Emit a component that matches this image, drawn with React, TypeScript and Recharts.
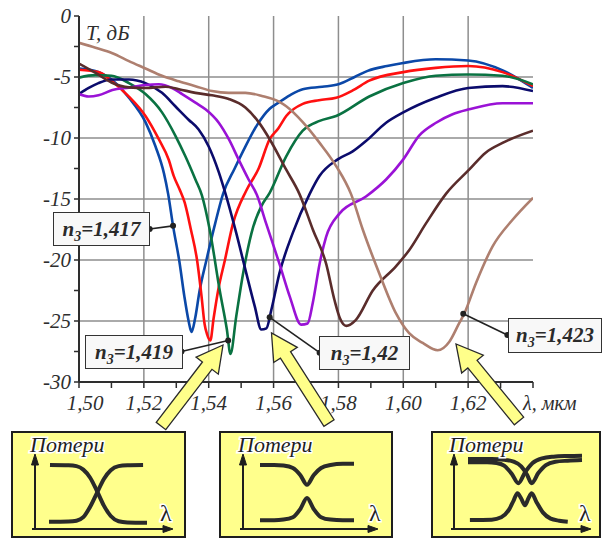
import React from 'react';
import { LineChart, Line, XAxis, YAxis, CartesianGrid, ReferenceLine, ReferenceDot } from 'recharts';

type Pt = [number, number];

// axis ticks
const lambdaTicks = [1.5, 1.51, 1.52, 1.53, 1.54, 1.55, 1.56, 1.57, 1.58, 1.59, 1.6, 1.61, 1.62, 1.63, 1.64];
const tTicks = [0, -2.5, -5, -7.5, -10, -12.5, -15, -17.5, -20, -22.5, -25, -27.5, -30];
const gridLambda = [1.52, 1.54, 1.56, 1.58, 1.6, 1.62];
const gridT = [-5, -10, -15, -20, -25];

// transmission curves, [lambda, T dB]
const n1417: Pt[] = [
  [1.5, -4.3], [1.505, -4.5], [1.51, -5.2], [1.5154, -6.7], [1.5205, -8.7], [1.5236, -10.7], [1.5262, -12.9],
  [1.5275, -14.6], [1.529, -17.2], [1.531, -20.2], [1.5325, -23.0], [1.5338, -25.0], [1.5347, -25.9], [1.5358, -24.8],
  [1.5372, -22.5], [1.5393, -20.0], [1.542, -17.0], [1.5444, -14.6], [1.548, -12.5], [1.5513, -10.7], [1.555, -8.9],
  [1.5588, -7.6], [1.5615, -7.1], [1.565, -6.5], [1.569, -6.0], [1.575, -5.8], [1.58, -5.6], [1.585, -5.0],
  [1.589, -4.5], [1.595, -4.1], [1.6, -3.85], [1.61, -3.55], [1.62, -3.65], [1.631, -4.5], [1.64, -5.9],
];
const n1418: Pt[] = [
  [1.5, -4.4], [1.506, -4.6], [1.51, -5.3], [1.515, -6.5], [1.5205, -8.2], [1.5246, -10.1], [1.5277, -11.8],
  [1.5292, -13.1], [1.531, -14.2], [1.5326, -15.3], [1.5345, -17.5], [1.5364, -20.0], [1.5378, -23.0], [1.5387, -25.2],
  [1.5395, -26.1], [1.5405, -26.6], [1.5415, -24.8], [1.5429, -22.5], [1.545, -20.0], [1.5475, -17.0], [1.5516, -14.3],
  [1.5554, -12.5], [1.5588, -10.1], [1.5615, -9.2], [1.5639, -8.2], [1.569, -7.2], [1.574, -6.9], [1.5793, -6.7],
  [1.5844, -6.1], [1.5895, -5.3], [1.6, -4.6], [1.61, -4.25], [1.62, -4.1], [1.6306, -4.6], [1.64, -5.75],
];
const n1419: Pt[] = [
  [1.5, -5.05], [1.505, -4.85], [1.51, -4.9], [1.5154, -5.5], [1.5205, -6.4], [1.5256, -7.9], [1.5297, -9.8],
  [1.5328, -11.5], [1.5359, -13.4], [1.5379, -14.7], [1.5403, -17.5], [1.5434, -22.5], [1.5456, -25.7], [1.5467, -27.7],
  [1.5485, -24.6], [1.5506, -21.1], [1.5537, -17.3], [1.5562, -15.6], [1.5588, -14.5], [1.5639, -11.5], [1.569, -9.4],
  [1.5742, -8.6], [1.5793, -8.2], [1.5895, -6.6], [1.6, -5.5], [1.61, -4.9], [1.62, -4.8], [1.6306, -4.9], [1.64, -5.6],
];
const n1420: Pt[] = [
  [1.5, -6.4], [1.503, -5.9], [1.506, -5.5], [1.51, -5.2], [1.5154, -5.2], [1.5205, -5.5], [1.5256, -6.3],
  [1.5297, -7.4], [1.5338, -8.5], [1.5369, -9.3], [1.54, -10.7], [1.5431, -12.8], [1.5451, -14.5], [1.5485, -17.8],
  [1.5516, -21.1], [1.5542, -23.8], [1.5562, -25.7], [1.5578, -25.6], [1.5593, -24.1], [1.5618, -21.1], [1.5659, -17.8],
  [1.5711, -14.6], [1.5742, -13.1], [1.5798, -11.75], [1.5844, -11.1], [1.5885, -10.25], [1.5947, -8.75], [1.6, -7.9],
  [1.61, -6.7], [1.62, -5.9], [1.6306, -5.75], [1.64, -6.15],
];
const n1421: Pt[] = [
  [1.5, -6.4], [1.503, -6.6], [1.506, -6.5], [1.5103, -6.07], [1.5154, -5.87], [1.5205, -5.65], [1.5246, -5.6],
  [1.5287, -5.9], [1.5318, -6.4], [1.5359, -7.1], [1.539, -7.65], [1.5431, -8.75], [1.5462, -10.1], [1.5492, -11.75],
  [1.5523, -13.4], [1.5549, -14.7], [1.5577, -17.0], [1.5618, -20.3], [1.565, -23.0], [1.5685, -25.3], [1.5705, -25.2],
  [1.5721, -23.5], [1.5742, -20.3], [1.5762, -18.1], [1.5803, -16.2], [1.5885, -14.8], [1.5947, -13.4], [1.6, -11.75],
  [1.6049, -9.8], [1.6101, -8.75], [1.6152, -8.05], [1.6203, -7.65], [1.6306, -7.15], [1.64, -7.15],
];
const n1422: Pt[] = [
  [1.5, -3.9], [1.505, -4.65], [1.51, -5.45], [1.5154, -5.85], [1.5205, -5.9], [1.5267, -5.8], [1.5308, -6.0],
  [1.5359, -6.3], [1.541, -6.5], [1.5462, -6.8], [1.5513, -7.5], [1.5554, -8.7], [1.5588, -10.1], [1.5639, -12.6],
  [1.568, -14.6], [1.5721, -17.5], [1.5762, -20.3], [1.5788, -23.3], [1.5805, -24.8], [1.5824, -25.4], [1.5854, -24.9],
  [1.5906, -22.5], [1.5978, -20.5], [1.6018, -19.2], [1.607, -17.0], [1.6131, -14.6], [1.6203, -12.6], [1.6254, -11.2],
  [1.6306, -10.4], [1.64, -9.4],
];
const n1423: Pt[] = [
  [1.5, -2.2], [1.5051, -2.6], [1.5103, -3.05], [1.5154, -3.7], [1.5205, -4.3], [1.5256, -4.9], [1.5308, -5.35],
  [1.5359, -5.75], [1.541, -6.15], [1.5462, -6.3], [1.5513, -6.3], [1.5564, -6.55], [1.5615, -7.0], [1.5639, -7.4],
  [1.569, -8.7], [1.5742, -10.4], [1.5793, -12.3], [1.5839, -14.6], [1.5875, -17.5], [1.5926, -21.1], [1.5978, -24.4],
  [1.6018, -26.0], [1.606, -26.8], [1.6106, -27.4], [1.6142, -26.7], [1.6172, -25.2], [1.6188, -24.4], [1.6224, -21.9],
  [1.6275, -18.9], [1.6337, -16.7], [1.64, -14.9],
];

const series = [
  { id: '1417', pts: n1417, color: '#0b48a8' },
  { id: '1418', pts: n1418, color: '#ff1010' },
  { id: '1419', pts: n1419, color: '#0a7242' },
  { id: '1420', pts: n1420, color: '#0b0b6c' },
  { id: '1421', pts: n1421, color: '#9a12d6' },
  { id: '1422', pts: n1422, color: '#5a2c2b' },
  { id: '1423', pts: n1423, color: '#ae7f6f' },
];

// callouts: point on curve and box anchor, both in data units
const calloutText = ['1,417', '1,419', '1,42', '1,423'];
const calloutCurve: Pt[] = [[1.529, -17.2], [1.546, -26.6], [1.5588, -24.7], [1.6185, -24.4]];
const calloutAnchor: Pt[] = [[1.5218, -17.46], [1.5316, -27.5], [1.5742, -27.6], [1.6321, -26.15]];
const calloutBox = [
  { left: 53, top: 212, width: 97, height: 34 },
  { left: 85, top: 335, width: 98, height: 34 },
  { left: 319, top: 336, width: 91, height: 34 },
  { left: 508, top: 318, width: 94, height: 35 },
];

// schematic loss curves in the three insets
const in1Fall: Pt[] = [[0.1, 1], [2, 0.995], [2.8, 0.98], [3.5, 0.92], [4.2, 0.78], [4.9, 0.55], [5.6, 0.3], [6.3, 0.12], [7.1, 0.03], [8, 0.01], [10, 0.005]];
const in1Rise: Pt[] = [[0, 0.02], [2, 0.025], [2.8, 0.04], [3.5, 0.1], [4.2, 0.28], [4.9, 0.52], [5.6, 0.76], [6.3, 0.91], [7.1, 0.98], [8, 0.995], [9.6, 1]];
const in2Upper: Pt[] = [[0, 0.95], [1.5, 0.95], [2.5, 0.94], [3.5, 0.9], [4.3, 0.78], [5, 0.62], [5.7, 0.78], [6.5, 0.9], [7.5, 0.95], [8.8, 0.97], [10, 0.97]];
const in2Lower: Pt[] = [[0, 0.03], [1.5, 0.03], [2.5, 0.04], [3.5, 0.08], [4.3, 0.22], [5, 0.4], [5.7, 0.22], [6.5, 0.08], [7.5, 0.04], [8.8, 0.03], [10, 0.03]];
const in3UpperA: Pt[] = [[0, 0.89], [2, 0.89], [3, 0.88], [3.8, 0.84], [4.6, 0.72], [5.3, 0.58], [6.0, 0.74], [6.8, 0.88], [7.8, 0.95], [9, 0.975], [10.5, 0.985], [12, 0.99]];
const in3UpperB: Pt[] = [[0, 0.94], [2.5, 0.94], [3.8, 0.93], [4.8, 0.9], [5.6, 0.83], [6.2, 0.71], [6.7, 0.58], [7.4, 0.73], [8.2, 0.85], [9.2, 0.9], [10.5, 0.915], [12, 0.925]];
const in3Lower: Pt[] = [
  [0.2, 0.03], [2.5, 0.035], [3.5, 0.07], [4.3, 0.18], [4.8, 0.32], [5.2, 0.43], [5.6, 0.35], [6.0, 0.25],
  [6.35, 0.35], [6.7, 0.43], [7.2, 0.3], [7.9, 0.14], [8.7, 0.05], [9.6, 0.02], [10.5, 0.005],
];

const toData = (pts: Pt[]) => pts.map(([x, y]) => ({ x, y }));
const FONT = 'Liberation Serif';
const INK = '#2e2e2e';

const BottomTick = (props: any) => {
  const { x, y, payload } = props;
  const v = Math.round(payload.value * 100);
  if (v === 164) {
    return (
      <text x={x - 10} y={y + 20} fontSize={20} fontStyle="italic" fontFamily={FONT} fill={INK}>
        λ, мкм
      </text>
    );
  }
  if (v % 2 !== 0) return <g />;
  return (
    <text x={x + (v === 150 ? 6 : 0)} y={y + 20} textAnchor="middle" fontSize={21} fontStyle="italic" fontFamily={FONT} fill={INK}>
      {payload.value.toFixed(2).replace('.', ',')}
    </text>
  );
};

const LeftTick = (props: any) => {
  const { x, y, payload } = props;
  if (payload.value % 5 !== 0) return <g />;
  return (
    <text x={x} y={y} dy={7} textAnchor="end" fontSize={21} fontStyle="italic" fontFamily={FONT} fill={INK}>
      {String(payload.value)}
    </text>
  );
};

function arrowPoints(x0: number, y0: number, x1: number, y1: number) {
  const dx = x1 - x0;
  const dy = y1 - y0;
  const L = Math.hypot(dx, dy);
  const ux = dx / L;
  const uy = dy / L;
  const px = -uy;
  const py = ux;
  const w = 6;
  const hw = 14;
  const hb = L - 26;
  const bx = x0 + ux * hb;
  const by = y0 + uy * hb;
  const p = [
    [x0 + px * w, y0 + py * w],
    [bx + px * w, by + py * w],
    [bx + px * hw, by + py * hw],
    [x1, y1],
    [bx - px * hw, by - py * hw],
    [bx - px * w, by - py * w],
    [x0 - px * w, y0 - py * w],
  ];
  return p.map((q) => q.join(',')).join(' ');
}

const InsetCurves = ({ left, top, width, height, xMax, curves }: { left: number; top: number; width: number; height: number; xMax: number; curves: Pt[][] }) => (
  <LineChart width={width} height={height} margin={{ top: 3, right: 3, bottom: 3, left: 3 }} style={{ position: 'absolute', left, top }}>
    <XAxis type="number" dataKey="x" domain={[0, xMax]} hide />
    <YAxis type="number" domain={[0, 1]} hide />
    {curves.map((c, i) => (
      <Line key={i} data={toData(c)} dataKey="y" type="monotone" stroke="#2a2a2a" strokeWidth={4} dot={false} isAnimationActive={false} />
    ))}
  </LineChart>
);

const insetBoxes = [
  { left: 11, width: 175 },
  { left: 219, width: 174 },
  { left: 431, width: 170 },
];

const insetAxes = [
  { ax: 35, x1: 171, lx: 160 },
  { ax: 243, x1: 376, lx: 369 },
  { ax: 454, x1: 589, lx: 579 },
];

export default function App() {
  return (
    <div style={{ position: 'absolute', left: 0, top: 0, width: 603, height: 539, overflow: 'hidden', background: '#fff', fontFamily: FONT }}>
      <LineChart width={603} height={430} margin={{ top: 16, right: 70, bottom: 18, left: 19 }} style={{ position: 'absolute', left: 0, top: 0 }}>
        <CartesianGrid stroke="#8e8e8e" strokeWidth={1.5} horizontalValues={gridT} verticalValues={gridLambda} />
        <XAxis
          type="number"
          dataKey="x"
          domain={[1.5, 1.64]}
          ticks={lambdaTicks}
          interval={0}
          height={30}
          tickSize={6}
          tickMargin={2}
          tick={<BottomTick />}
          axisLine={{ stroke: INK, strokeWidth: 2 }}
          tickLine={{ stroke: INK, strokeWidth: 1.5 }}
          allowDataOverflow
        />
        <XAxis
          xAxisId="top"
          orientation="top"
          type="number"
          domain={[1.5, 1.64]}
          ticks={lambdaTicks}
          interval={0}
          height={0}
          mirror
          tick={false}
          tickSize={5}
          axisLine={{ stroke: INK, strokeWidth: 2 }}
          tickLine={{ stroke: INK, strokeWidth: 1.5 }}
        />
        <YAxis
          type="number"
          domain={[-30, 0]}
          ticks={tTicks}
          interval={0}
          width={60}
          tickSize={5}
          tickMargin={3}
          tick={<LeftTick />}
          axisLine={{ stroke: INK, strokeWidth: 2 }}
          tickLine={{ stroke: INK, strokeWidth: 1.5 }}
          allowDataOverflow
        />
        <YAxis
          yAxisId="right"
          orientation="right"
          type="number"
          domain={[-30, 0]}
          ticks={tTicks}
          interval={0}
          width={0}
          mirror
          tick={false}
          tickSize={5}
          axisLine={{ stroke: INK, strokeWidth: 2 }}
          tickLine={{ stroke: INK, strokeWidth: 1.5 }}
        />
        {series.map((s) => (
          <Line key={s.id} data={toData(s.pts)} dataKey="y" type="monotone" stroke={s.color} strokeWidth={2.6} dot={false} isAnimationActive={false} />
        ))}
        {calloutCurve.map((c, i) => (
          <ReferenceLine
            key={'l' + i}
            segment={[{ x: c[0], y: c[1] }, { x: calloutAnchor[i][0], y: calloutAnchor[i][1] }]}
            stroke="#222"
            strokeWidth={1.6}
          />
        ))}
        {calloutCurve.map((c, i) => (
          <ReferenceDot key={'c' + i} x={c[0]} y={c[1]} r={3} fill="#222" stroke="none" />
        ))}
        {calloutAnchor.map((c, i) => (
          <ReferenceDot key={'a' + i} x={c[0]} y={c[1]} r={3} fill="#222" stroke="none" />
        ))}
      </LineChart>

      {calloutBox.map((b, i) => (
        <div
          key={i}
          style={{
            position: 'absolute',
            left: b.left,
            top: b.top,
            width: b.width,
            height: b.height,
            boxSizing: 'border-box',
            border: '1.6px solid #333',
            background: '#f8f8f8',
            display: 'flex',
            alignItems: 'center',
            justifyContent: 'center',
            fontFamily: FONT,
            fontStyle: 'italic',
            fontWeight: 'bold',
            fontSize: 21,
            color: '#2a2a2a',
            whiteSpace: 'nowrap',
            lineHeight: 1,
          }}
        >
          <span>
            n<sub style={{ fontSize: 14, verticalAlign: '-5px', lineHeight: 0 }}>3</sub>={calloutText[i]}
          </span>
        </div>
      ))}

      {insetBoxes.map((b, i) => (
        <div
          key={'box' + i}
          style={{
            position: 'absolute',
            left: b.left,
            top: 431,
            width: b.width,
            height: 107,
            boxSizing: 'border-box',
            border: '2px solid #1e1e1e',
            background: '#ffff8c',
          }}
        />
      ))}

      <InsetCurves left={46} top={462} width={104} height={64} xMax={10} curves={[in1Fall, in1Rise]} />
      <InsetCurves left={257} top={459} width={100} height={66} xMax={10} curves={[in2Upper, in2Lower]} />
      <InsetCurves left={465} top={452} width={120} height={73} xMax={12} curves={[in3UpperA, in3UpperB, in3Lower]} />

      <svg width={603} height={539} style={{ position: 'absolute', left: 0, top: 0, pointerEvents: 'none' }}>
        <text x={86} y={40} fontSize={21} fontStyle="italic" fontFamily={FONT} fill={INK}>
          T, дБ
        </text>
        <polygon points={arrowPoints(161, 426, 223, 345)} fill="#ffff8a" stroke="#2a2a2a" strokeWidth={1.3} />
        <polygon points={arrowPoints(329, 423, 271.5, 333)} fill="#ffff8a" stroke="#2a2a2a" strokeWidth={1.3} />
        <polygon points={arrowPoints(519, 421, 456, 344)} fill="#ffff8a" stroke="#2a2a2a" strokeWidth={1.3} />
        {insetAxes.map((a, i) => (
          <g key={i} stroke="#1e1e1e" strokeWidth={2} fill="#1e1e1e">
            <line x1={a.ax} y1={529} x2={a.ax} y2={462} />
            <polygon points={`${a.ax - 3.5},${465} ${a.ax},${454} ${a.ax + 3.5},${465}`} strokeWidth={1} />
            <line x1={a.ax - 3} y1={529} x2={a.x1 - 4} y2={529} />
            <polygon points={`${a.x1 - 8},${525.5} ${a.x1 + 2},${529} ${a.x1 - 8},${532.5}`} strokeWidth={1} />
            <text
              x={a.ax - 5}
              y={452}
              fontSize={22}
              fontStyle="italic"
              fontFamily={FONT}
              fill="#1e1e1e"
              stroke="#fff"
              strokeWidth={3}
              paintOrder="stroke"
            >
              Потери
            </text>
            <text
              x={a.lx}
              y={521}
              fontSize={24}
              fontFamily={FONT}
              fill="#1e1e1e"
              stroke="#fff"
              strokeWidth={3}
              paintOrder="stroke"
            >
              λ
            </text>
          </g>
        ))}
      </svg>
    </div>
  );
}
